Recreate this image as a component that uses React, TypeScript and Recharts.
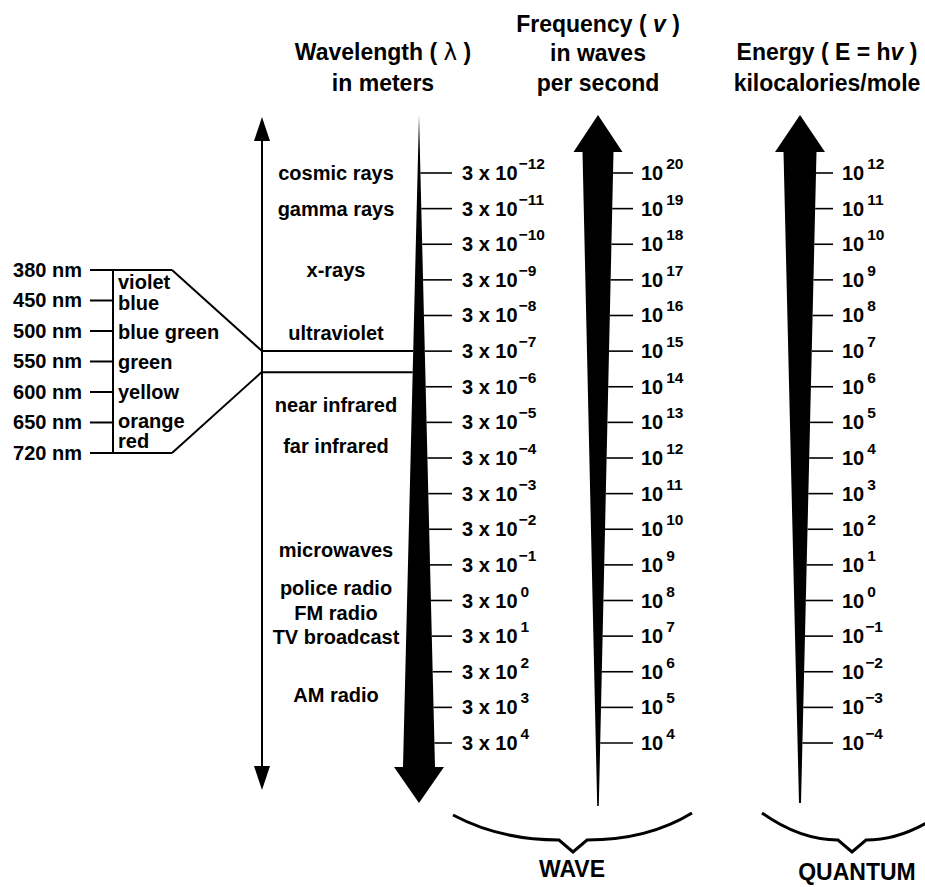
import { ComposedChart, XAxis, YAxis, Scatter, ReferenceLine, Customized } from 'recharts';

const wavelengthExponents = [-12, -11, -10, -9, -8, -7, -6, -5, -4, -3, -2, -1, 0, 1, 2, 3, 4];
const frequencyExponents = [20, 19, 18, 17, 16, 15, 14, 13, 12, 11, 10, 9, 8, 7, 6, 5, 4];
const energyExponents = [12, 11, 10, 9, 8, 7, 6, 5, 4, 3, 2, 1, 0, -1, -2, -3, -4];

const bandNames = [
  'cosmic rays',
  'gamma rays',
  'x-rays',
  'ultraviolet',
  'near infrared',
  'far infrared',
  'microwaves',
  'police radio',
  'FM radio',
  'TV broadcast',
  'AM radio',
];
// where each band name sits on the wavelength scale (exponent of 3 x 10^n)
const bandExponents = [-12, -11, -9.28, -7.5, -5.49, -4.34, -1.42, -0.35, 0.35, 1.02, 2.65];

const visibleNm = [380, 450, 500, 550, 600, 650, 720];
const colourNames = ['violet', 'blue', 'blue green', 'green', 'yellow', 'orange', 'red'];
const colourSteps = [0.4, 1.08, 2.03, 3.02, 4.0, 4.95, 5.62];
// visible band edges on the wavelength scale, and where they meet the nm bracket
const visibleEdgeExponents = [-7, -6.41];
const visibleJoinSteps = [2.66, 3.34];

const W = 925;
const H = 887;
const FONT = '"Liberation Sans", Arial, Helvetica, sans-serif';

const AXIS_X = 262;
const WEDGE_X = 419;
const FREQ_X = 598;
const ENERGY_X = 800;
const BAND_X = 336;
const NM_X = 113;
const COLOUR_X = 118;
const BRACKET_X = 172;

const wedgeHalf = (y: number) => (16 * (y - 115)) / 652;
const freqHalf = (y: number) => 0.8 + (14.7 * (806 - y)) / 654;
const energyHalf = (y: number) => 1 + (15.5 * (803 - y)) / 651;

const minus = (n: number) => (n < 0 ? `\u2212${Math.abs(n)}` : `${n}`);

const lambdaData = wavelengthExponents.map((e) => ({ x: WEDGE_X, y: e }));
const freqData = frequencyExponents.map((e) => ({ x: FREQ_X, y: e }));
const energyData = energyExponents.map((e) => ({ x: ENERGY_X, y: e }));
const bandData = bandNames.map((name, i) => ({ x: BAND_X, y: bandExponents[i], name }));
const nmData = visibleNm.map((nm, i) => ({ x: NM_X, y: i, nm, last: i === 0 || i === visibleNm.length - 1 }));
const colourData = colourNames.map((name, i) => ({ x: COLOUR_X, y: colourSteps[i], name }));
const edgeData = visibleEdgeExponents.map((e) => ({ x: AXIS_X, y: e }));

const Power = ({ x, y, base, exp }: { x: number; y: number; base: string; exp: number }) => (
  <text x={x} y={y + 7} fontFamily={FONT} fontWeight="bold" fontSize={20} fill="#000">
    {base}
    <tspan dx={exp < 0 ? 1 : 3} dy={-11} fontSize={15.5}>
      {minus(exp)}
    </tspan>
  </text>
);

const LambdaTick = (p: any) => {
  const x0 = p.cx + wedgeHalf(p.cy);
  return (
    <g>
      <line x1={x0} x2={452} y1={p.cy} y2={p.cy} stroke="#000" strokeWidth={1.6} />
      <Power x={462} y={p.cy} base="3 x 10" exp={p.payload.y} />
    </g>
  );
};

const FreqTick = (p: any) => {
  const x0 = p.cx + freqHalf(p.cy);
  return (
    <g>
      <line x1={x0} x2={633} y1={p.cy} y2={p.cy} stroke="#000" strokeWidth={1.6} />
      <Power x={641} y={p.cy} base="10" exp={p.payload.y} />
    </g>
  );
};

const EnergyTick = (p: any) => {
  const x0 = p.cx + energyHalf(p.cy);
  return (
    <g>
      <line x1={x0} x2={833} y1={p.cy} y2={p.cy} stroke="#000" strokeWidth={1.6} />
      <Power x={842} y={p.cy} base="10" exp={p.payload.y} />
    </g>
  );
};

const BandLabel = (p: any) => (
  <text x={p.cx} y={p.cy + 7} textAnchor="middle" fontFamily={FONT} fontWeight="bold" fontSize={20} fill="#000">
    {p.payload.name}
  </text>
);

const NmTick = (p: any) => (
  <g>
    <line x1={p.cx - 23} x2={p.payload.last ? BRACKET_X : p.cx} y1={p.cy} y2={p.cy} stroke="#000" strokeWidth={2} />
    <text x={p.cx - 31} y={p.cy + 7} textAnchor="end" fontFamily={FONT} fontWeight="bold" fontSize={20} fill="#000">
      {`${p.payload.nm} nm`}
    </text>
  </g>
);

const ColourLabel = (p: any) => (
  <text x={p.cx} y={p.cy + 7} fontFamily={FONT} fontWeight="bold" fontSize={20} fill="#000">
    {p.payload.name}
  </text>
);

const EdgeLine = (p: any) => (
  <line x1={p.cx} x2={WEDGE_X - wedgeHalf(p.cy)} y1={p.cy} y2={p.cy} stroke="#000" strokeWidth={2} />
);

const Title = ({ x, y, children, size = 23 }: any) => (
  <text x={x} y={y} textAnchor="middle" fontFamily={FONT} fontWeight="bold" fontSize={size} fill="#000">
    {children}
  </text>
);

function Decorations() {
  return (
    <g>
      <Title x={383} y={60}>
        {'Wavelength ( '}
        <tspan fontWeight="normal" fontFamily='"DejaVu Sans", sans-serif'>
          λ
        </tspan>
        {' )'}
      </Title>
      <Title x={383} y={91}>in meters</Title>
      <Title x={598} y={32}>
        {'Frequency ( '}
        <tspan fontStyle="italic">v</tspan>
        {' )'}
      </Title>
      <Title x={598} y={61}>in waves</Title>
      <Title x={598} y={91}>per second</Title>
      <Title x={827} y={60}>
        {'Energy ( E = h'}
        <tspan fontStyle="italic">v</tspan>
        {' )'}
      </Title>
      <Title x={827} y={91}>kilocalories/mole</Title>

      {/* double headed wavelength direction arrow */}
      <line x1={AXIS_X} x2={AXIS_X} y1={138} y2={768} stroke="#000" strokeWidth={2} />
      <polygon points={`${AXIS_X},117 ${AXIS_X - 8},141 ${AXIS_X + 8},141`} fill="#000" />
      <polygon points={`${AXIS_X},790 ${AXIS_X - 8},766 ${AXIS_X + 8},766`} fill="#000" />

      {/* wavelength wedge pointing down */}
      <polygon
        points={`${WEDGE_X},115 ${WEDGE_X + 16},767 ${WEDGE_X + 25},767 ${WEDGE_X},803 ${WEDGE_X - 25},767 ${WEDGE_X - 16},767`}
        fill="#000"
      />
      {/* frequency arrow pointing up */}
      <polygon
        points={`${FREQ_X},115 ${FREQ_X + 24.5},152 ${FREQ_X + freqHalf(152)},152 ${FREQ_X + 0.8},806 ${FREQ_X - 0.8},806 ${FREQ_X - freqHalf(152)},152 ${FREQ_X - 24.5},152`}
        fill="#000"
      />
      {/* energy arrow pointing up */}
      <polygon
        points={`${ENERGY_X},115 ${ENERGY_X + 25},152 ${ENERGY_X + energyHalf(152)},152 ${ENERGY_X + 1},803 ${ENERGY_X - 1},803 ${ENERGY_X - energyHalf(152)},152 ${ENERGY_X - 25},152`}
        fill="#000"
      />

      {/* braces */}
      <path
        d="M453,815 Q500,840 559,840 L573,852 L587,840 Q648,840 692,813"
        fill="none"
        stroke="#000"
        strokeWidth={3}
      />
      <path
        d="M762,813 Q800,840 838,840 L852,852 L866,840 Q904,840 942,813"
        fill="none"
        stroke="#000"
        strokeWidth={3}
      />
      <Title x={572} y={877}>WAVE</Title>
      <Title x={857} y={880}>QUANTUM</Title>
    </g>
  );
}

export default function App() {
  return (
    <div style={{ position: 'absolute', left: 0, top: 0, background: '#fff' }}>
      <ComposedChart width={W} height={H} margin={{ top: 0, right: 0, bottom: 0, left: 0 }}>
        <XAxis type="number" dataKey="x" domain={[0, W]} allowDataOverflow hide />
        <YAxis yAxisId="lambda" type="number" dataKey="y" domain={[-16.856, 8.042]} reversed allowDataOverflow hide />
        <YAxis yAxisId="freq" type="number" dataKey="y" domain={[-0.042, 24.856]} allowDataOverflow hide />
        <YAxis yAxisId="energy" type="number" dataKey="y" domain={[-8.042, 16.856]} allowDataOverflow hide />
        <YAxis yAxisId="vis" type="number" dataKey="y" domain={[-8.852, 20.23]} reversed allowDataOverflow hide />

        <Scatter yAxisId="lambda" data={lambdaData} shape={LambdaTick} isAnimationActive={false} />
        <Scatter yAxisId="freq" data={freqData} shape={FreqTick} isAnimationActive={false} />
        <Scatter yAxisId="energy" data={energyData} shape={EnergyTick} isAnimationActive={false} />
        <Scatter yAxisId="lambda" data={bandData} shape={BandLabel} isAnimationActive={false} />
        <Scatter yAxisId="lambda" data={edgeData} shape={EdgeLine} isAnimationActive={false} />
        <Scatter yAxisId="vis" data={nmData} shape={NmTick} isAnimationActive={false} />
        <Scatter yAxisId="vis" data={colourData} shape={ColourLabel} isAnimationActive={false} />

        <ReferenceLine
          yAxisId="vis"
          segment={[{ x: NM_X, y: 0 }, { x: NM_X, y: visibleNm.length - 1 }]}
          stroke="#000"
          strokeWidth={2}
        />
        <ReferenceLine
          yAxisId="vis"
          segment={[{ x: BRACKET_X, y: 0 }, { x: AXIS_X, y: visibleJoinSteps[0] }]}
          stroke="#000"
          strokeWidth={2}
        />
        <ReferenceLine
          yAxisId="vis"
          segment={[{ x: BRACKET_X, y: visibleNm.length - 1 }, { x: AXIS_X, y: visibleJoinSteps[1] }]}
          stroke="#000"
          strokeWidth={2}
        />

        <Customized component={Decorations} />
      </ComposedChart>
    </div>
  );
}
